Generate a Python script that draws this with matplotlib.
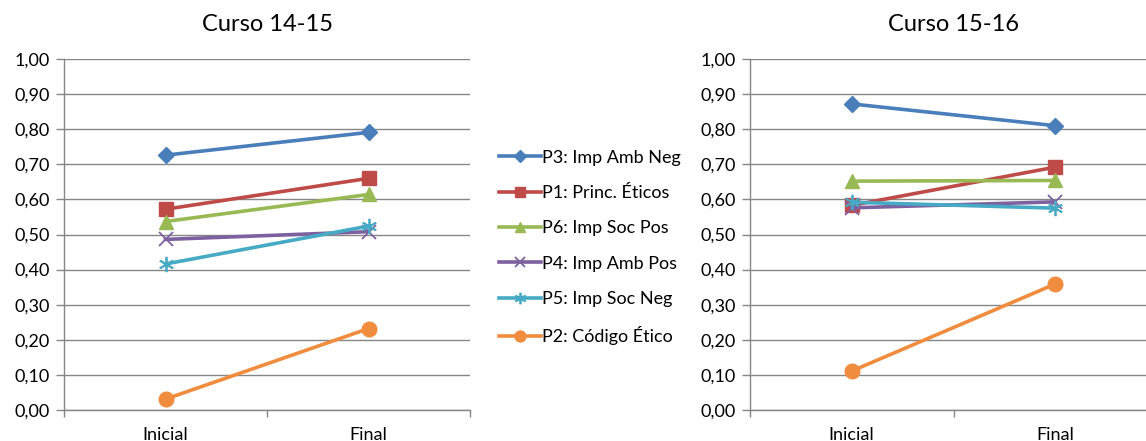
import numpy as np
import matplotlib.pyplot as plt
from matplotlib.ticker import FixedLocator, NullFormatter

plt.rcParams['font.family'] = ['Lato', 'DejaVu Sans']

# Data
categorias = ["Inicial", "Final"]
series = ["P3: Imp Amb Neg", "P1: Princ. Éticos", "P6: Imp Soc Pos",
          "P4: Imp Amb Pos", "P5: Imp Soc Neg", "P2: Código Ético"]
curso_1415 = [[0.726, 0.791],
              [0.572, 0.660],
              [0.537, 0.614],
              [0.486, 0.508],
              [0.416, 0.524],
              [0.031, 0.232]]
curso_1516 = [[0.872, 0.810],
              [0.583, 0.692],
              [0.652, 0.654],
              [0.576, 0.593],
              [0.592, 0.575],
              [0.111, 0.359]]
titulos = ["Curso 14-15", "Curso 15-16"]
yticks = [0.0, 0.1, 0.2, 0.3, 0.4, 0.5, 0.6, 0.7, 0.8, 0.9, 1.0]

colores = ['#4A7EBB', '#BE4B48', '#98B954', '#7D60A0', '#46AAC5', '#F08C3E']
marcadores = ['D', 's', '^', 'x', (6, 2, 0), 'o']
tamanos = [8, 9.5, 10, 10, 11, 10.5]

W, H = 1146, 441
fig = plt.figure(figsize=(W / 100, H / 100), dpi=100)

# axes boxes in pixels (left, top, right, bottom)
cajas = [(64, 59, 470, 410), (750, 59, 1157, 410)]
ejes = []
for caja, datos, titulo in zip(cajas, [curso_1415, curso_1516], titulos):
    l, t, r, b = caja
    ax = fig.add_axes([l / W, 1 - b / H, (r - l) / W, (b - t) / H])
    x = np.arange(len(categorias)) + 0.5
    for i in range(len(series)):
        ax.plot(x, datos[i], color=colores[i], lw=2.6, marker=marcadores[i],
                markersize=tamanos[i], markeredgecolor=colores[i],
                markeredgewidth=1.3 if i in (3, 4) else 1.0,
                label=series[i], clip_on=False, zorder=3)
    ax.set_xlim(0, 2)
    ax.set_ylim(0, 1.0)
    ax.set_yticks(yticks)
    ax.set_yticklabels([("%.2f" % v).replace('.', ',') for v in yticks], fontsize=13)
    ax.xaxis.set_major_locator(FixedLocator([0, 1, 2]))
    ax.xaxis.set_major_formatter(NullFormatter())
    ax.xaxis.set_minor_locator(FixedLocator(x))
    ax.set_xticklabels(categorias, minor=True, fontsize=13)
    ax.tick_params(axis='x', which='minor', length=0, pad=12)
    ax.tick_params(axis='x', which='major', length=5, color='#868686', width=1)
    ax.tick_params(axis='y', length=6, color='#868686', width=1, pad=4)
    ax.grid(axis='y', color='#868686', lw=1)
    ax.set_axisbelow(True)
    for s in ['top', 'right']:
        ax.spines[s].set_visible(False)
    for s in ['left', 'bottom']:
        ax.spines[s].set_color('#868686')
        ax.spines[s].set_linewidth(1)
    ax.set_title(titulo, fontsize=17, pad=20)
    ejes.append(ax)

h, lab = ejes[0].get_legend_handles_labels()
fig.legend(h, lab, loc='center left', bbox_to_anchor=(499 / W, 1 - 247.5 / H),
           frameon=False, fontsize=13, handlelength=2.3, handletextpad=0.1,
           labelspacing=1.07, borderpad=0, borderaxespad=0, markerscale=0.75)

fig.savefig('out.png', dpi=100)
